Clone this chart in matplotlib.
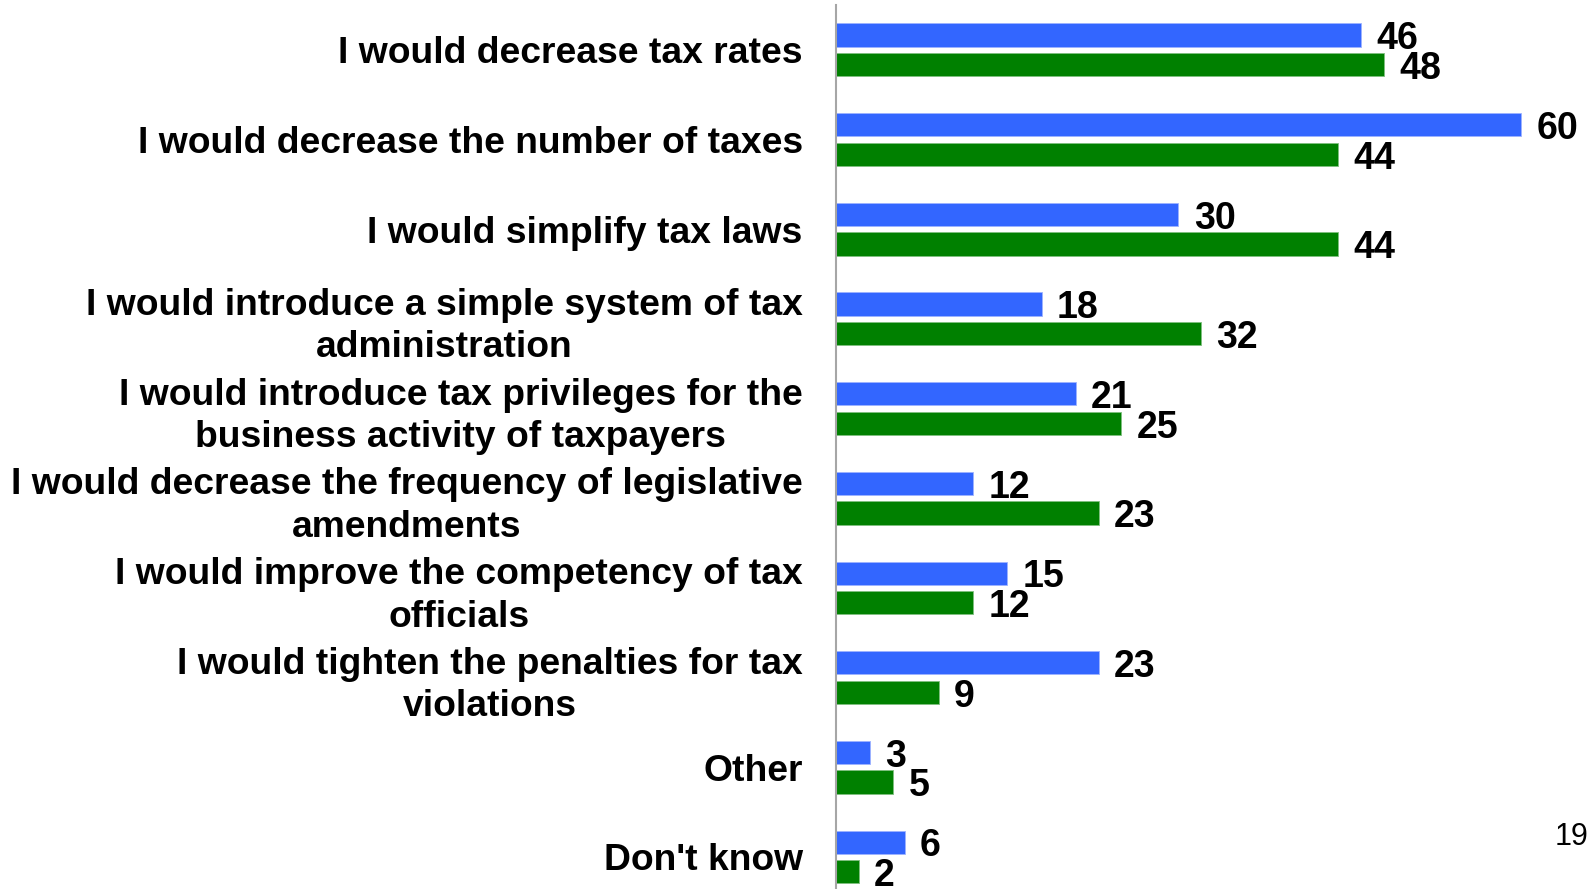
import matplotlib.pyplot as plt
import numpy as np

categories = [
    "I would decrease tax rates",
    "I would decrease the number of taxes",
    "I would simplify tax laws",
    "I would introduce a simple system of tax\nadministration",
    "I would introduce tax privileges for the\nbusiness activity of taxpayers",
    "I would decrease the frequency of legislative\namendments",
    "I would improve the competency of tax\nofficials",
    "I would tighten the penalties for tax\nviolations",
    "Other",
    "Don't know",
]
blue_vals = [46, 60, 30, 18, 21, 12, 15, 23, 3, 6]
green_vals = [48, 44, 44, 32, 25, 23, 12, 9, 5, 2]

plt.rcParams['font.family'] = ['Liberation Sans', 'DejaVu Sans']

fig = plt.figure(figsize=(15.94, 8.89), dpi=100)
ax = fig.add_axes([0.5245, 0.0, 0.4755, 0.9945])

y = np.arange(len(categories))
h = 0.26
off = 0.165
bb = ax.barh(y - off, blue_vals, height=h, color='#3366FF', edgecolor='#9DB3FF', linewidth=0.6)
gb = ax.barh(y + off, green_vals, height=h, color='#008000', edgecolor='#7FBF7F', linewidth=0.6)

for bars, vals in ((bb, blue_vals), (gb, green_vals)):
    for b, v in zip(bars, vals):
        ax.annotate(str(v), (b.get_width(), b.get_y() + b.get_height() / 2),
                    xytext=(11, -3), textcoords='offset points',
                    ha='left', va='center', fontsize=27, fontweight='bold')

ax.set_xlim(0, 66.4)
ax.set_ylim(9.357, -0.502)
ax.set_yticks(y)
ax.set_yticklabels(categories, fontsize=26.8, fontweight='bold')
for t in ax.get_yticklabels():
    t.set_multialignment('center')
    t.set_linespacing(1.28)
ax.tick_params(axis='y', length=0, pad=24)
ax.set_xticks([])

for s in ['top', 'right', 'bottom']:
    ax.spines[s].set_visible(False)
ax.spines['left'].set_color('#A6A6A6')
ax.spines['left'].set_linewidth(1.5)

fig.text(0.986, 0.059, "19", fontsize=22, ha='center', va='center')

fig.savefig('out.png', dpi=100)
